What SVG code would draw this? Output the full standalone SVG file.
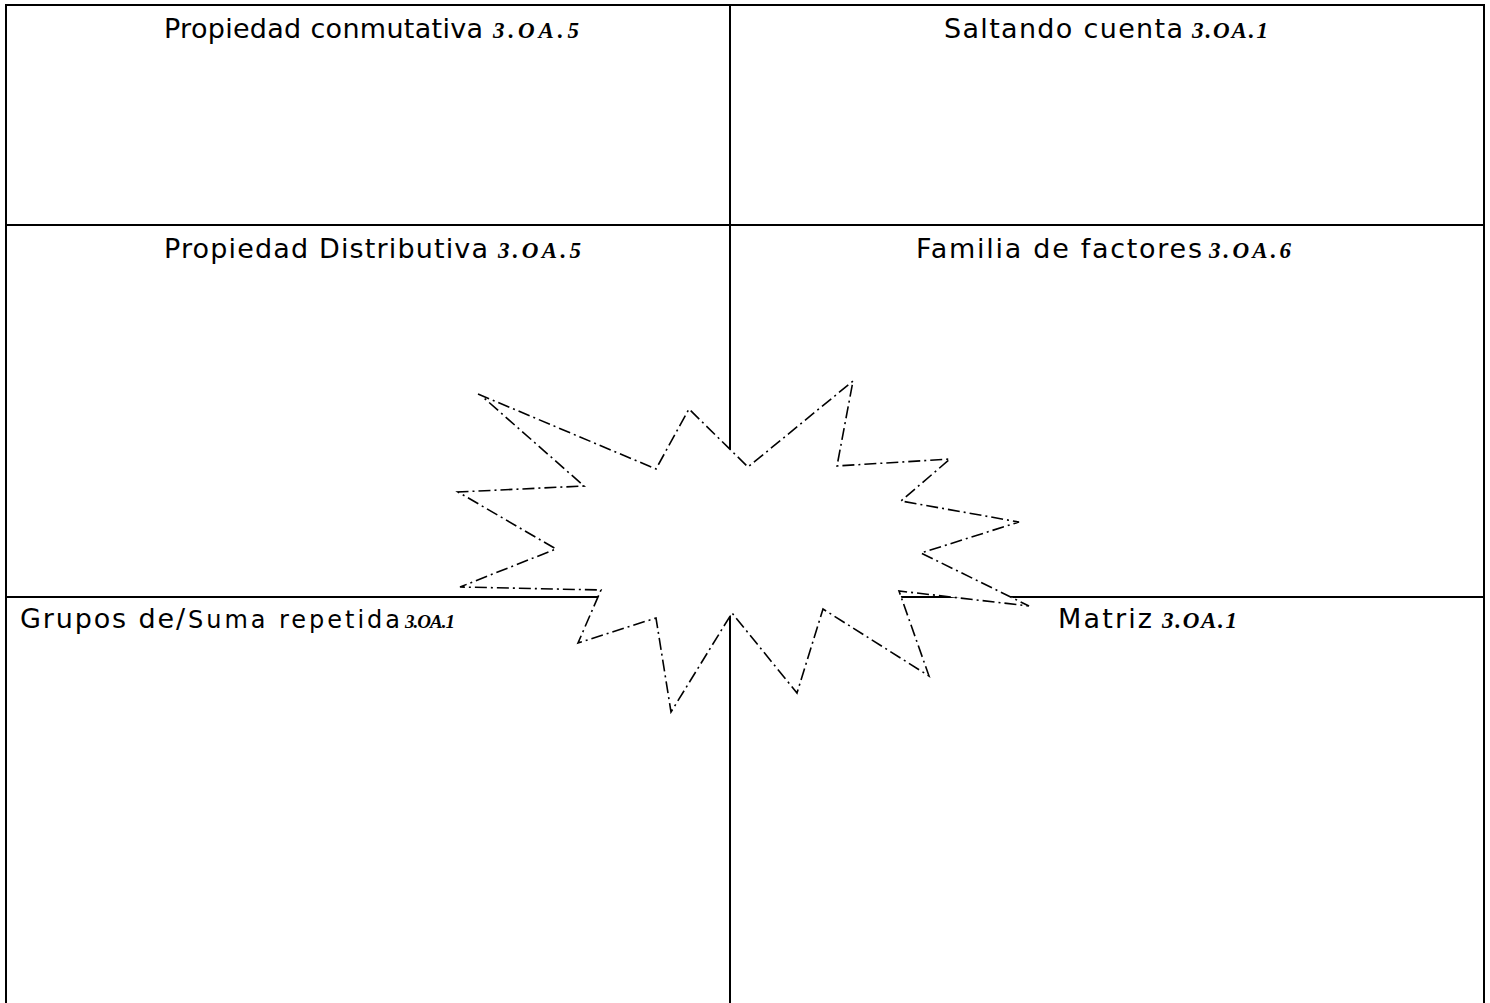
<svg xmlns="http://www.w3.org/2000/svg" width="1490" height="1003" viewBox="0 0 1490 1003">
<style>
.grid{stroke:#000;stroke-width:2;fill:none}
.lbl{font-family:"DejaVu Sans","Open Sans",sans-serif;font-size:27px;fill:#000}
.sm{font-size:24px}
.code{font-family:"Liberation Serif","Times New Roman",serif;font-weight:bold;font-style:italic;font-size:23px;fill:#000}
.csm{font-size:19px}
.star{fill:#fff;stroke:#000;stroke-width:1.6;stroke-dasharray:12 4 2 4}
</style>
<rect width="1490" height="1003" fill="#fff"/>
<g id="grid">
<line class="grid" x1="6" y1="5" x2="1485" y2="5"/>
<line class="grid" x1="6" y1="4" x2="6" y2="1003"/>
<line class="grid" x1="1484" y1="4" x2="1484" y2="1003"/>
<line class="grid" x1="730" y1="5" x2="730" y2="1003"/>
<line class="grid" x1="6" y1="225" x2="1484" y2="225"/>
<line class="grid" x1="6" y1="597" x2="1484" y2="597"/>
</g>
<g id="cell-conmutativa">
<text class="lbl" x="164" y="38" textLength="319">Propiedad conmutativa</text>
<text class="code" x="493" y="38" textLength="86">3.OA.5</text>
</g>
<g id="cell-saltando">
<text class="lbl" x="944" y="38" textLength="239">Saltando cuenta</text>
<text class="code" x="1192" y="38" textLength="76">3.OA.1</text>
</g>
<g id="cell-distributiva">
<text class="lbl" x="164" y="258" textLength="324">Propiedad Distributiva</text>
<text class="code" x="498" y="258" textLength="83">3.OA.5</text>
</g>
<g id="cell-familia">
<text class="lbl" x="916" y="258" textLength="286">Familia de factores</text>
<text class="code" x="1209" y="258" textLength="82">3.OA.6</text>
</g>
<g id="cell-grupos">
<text class="lbl" x="20" y="628" textLength="165">Grupos de/</text>
<text class="lbl sm" x="188" y="628" textLength="212">Suma repetida</text>
<text class="code csm" x="405" y="628" textLength="50">3.OA.1</text>
</g>
<g id="cell-matriz">
<text class="lbl" x="1058" y="628" textLength="94">Matriz</text>
<text class="code" x="1162" y="628" textLength="75">3.OA.1</text>
</g>
<g id="starburst">
<path class="star" d="M478,394 L656,469 L689,409 L748,467 L853,381 L837,466 L950,459 L901,501 L1019,522 L921,553 L1029,606 L899,591 L929,676 L823,609 L797,693 L732,613 L671,712 L656,618 L578,643 L601,590 L460,587 L556,549 L458,492 L584,486 L484,398"/>
</g>
</svg>
